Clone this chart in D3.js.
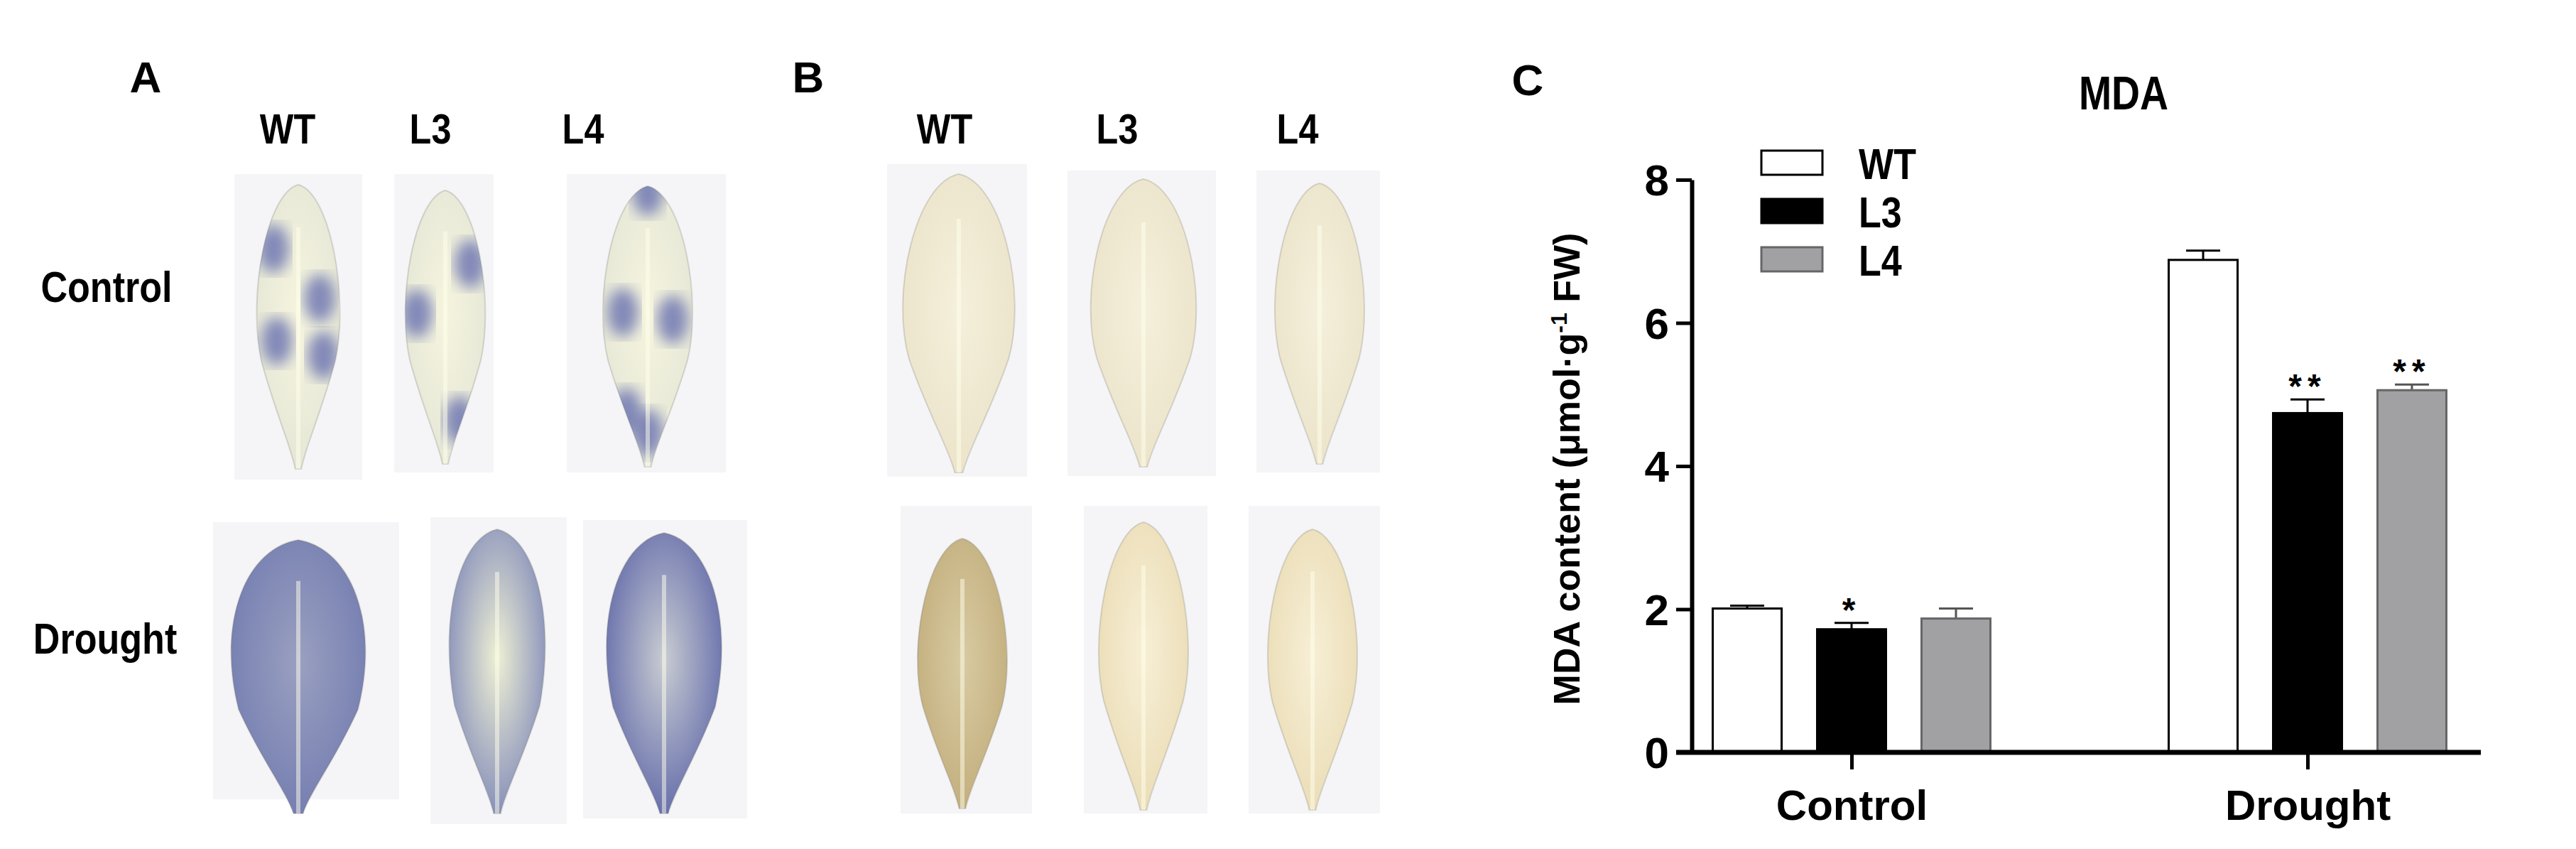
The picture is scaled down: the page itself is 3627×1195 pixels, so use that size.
<!DOCTYPE html>
<html><head><meta charset="utf-8">
<script src="https://cdn.jsdelivr.net/npm/d3@7"></script>
<style>body{margin:0;background:#fff}svg{display:block}</style>
</head><body>
<script>
const groups = ["Control", "Drought"];
const series = ["WT", "L3", "L4"];
const meanWT = [2.01, 6.88];
const meanL3 = [1.72, 4.74];
const meanL4 = [1.87, 5.06];
const errWT = [0.04, 0.13];
const errL3 = [0.09, 0.19];
const errL4 = [0.14, 0.08];
const sigWT = ["", ""];
const sigL3 = ["*", "**"];
const sigL4 = ["", "**"];
const yTicks = [0, 2, 4, 6, 8];
const colors = {WT: "#ffffff", L3: "#000000", L4: "#a1a1a4"};

const means = {WT: meanWT, L3: meanL3, L4: meanL4};
const errs = {WT: errWT, L3: errL3, L4: errL4};
const sigs = {WT: sigWT, L3: sigL3, L4: sigL4};

const W = 3627, H = 1195;
const svg = d3.select("body").append("svg").attr("width", W).attr("height", H);
const bold = "Arial, 'Liberation Sans', sans-serif";

// condensed bold text helper
function ntxt(x, y, s, size, anchor, sx) {
  const g = svg.append("g").attr("transform", `translate(${x},${y}) scale(${sx || 0.84},1)`);
  return g.append("text").text(s).attr("font-family", bold).attr("font-weight", "bold")
    .attr("font-size", size).attr("text-anchor", anchor || "middle");
}
const txt = (x, y, s, size, anchor) => svg.append("text").attr("x", x).attr("y", y).text(s)
  .attr("font-family", bold).attr("font-weight", "bold").attr("font-size", size).attr("text-anchor", anchor || "middle");

// ---------- Panels A and B (photo panels, approximated) ----------
function leafPath(cx, top, w, h, broad) {
  const b = top + h, mid = top + h * (broad ? 0.3 : 0.4);
  const pw = w * 0.08;
  return `M${cx},${top} C${cx + w * 0.35},${top + h * 0.03} ${cx + w * 0.55},${mid} ${cx + w * 0.4},${top + h * 0.62}
    C${cx + w * 0.25},${top + h * 0.8} ${cx + pw},${b - h * 0.08} ${cx + pw * 0.4},${b}
    L${cx - pw * 0.4},${b} C${cx - pw},${b - h * 0.08} ${cx - w * 0.25},${top + h * 0.8} ${cx - w * 0.4},${top + h * 0.62}
    C${cx - w * 0.55},${mid} ${cx - w * 0.35},${top + h * 0.03} ${cx},${top} Z`;
}
const defs = svg.append("defs");
function grad(id, c1, c2) {
  const g = defs.append("radialGradient").attr("id", id).attr("cx", "50%").attr("cy", "45%").attr("r", "60%");
  g.append("stop").attr("offset", "0%").attr("stop-color", c1);
  g.append("stop").attr("offset", "100%").attr("stop-color", c2);
}
grad("aC", "#f5f4de", "#e4e6d6");
grad("aD1", "#9aa0c0", "#737cb0");
grad("aD2", "#eef0d4", "#7f88b8");
grad("aD3", "#c9ccd2", "#5f68a8");
grad("bC", "#f5f0dc", "#ebe3c9");
grad("bD1", "#d8cba2", "#c2ad7c");
grad("bD2", "#f7efd6", "#eadcb5");
defs.append("filter").attr("id", "blur").append("feGaussianBlur").attr("stdDeviation", 10);

const leaves = [
  {tile:[330,245,180,430], cx:420, top:260, w:130, h:400, f:"url(#aC)", broad:false, spots:[[-35,-90],[30,-20],[-30,40],[35,60]]},
  {tile:[555,245,140,420], cx:627, top:268, w:125, h:385, f:"url(#aC)", broad:false, spots:[[-40,0],[35,-70],[20,150]]},
  {tile:[798,245,224,420], cx:912, top:262, w:140, h:395, f:"url(#aC)", broad:false, spots:[[0,-170],[-35,0],[35,10],[0,170],[-30,140]]},
  {tile:[300,735,262,390], cx:420, top:760, w:210, h:385, f:"url(#aD1)", broad:true},
  {tile:[606,728,192,432], cx:700, top:745, w:150, h:400, f:"url(#aD2)", broad:true},
  {tile:[821,732,231,420], cx:935, top:750, w:180, h:395, f:"url(#aD3)", broad:true},
  {tile:[1249,231,197,440], cx:1350, top:245, w:175, h:420, f:"url(#bC)", broad:false},
  {tile:[1503,240,209,430], cx:1610, top:252, w:165, h:405, f:"url(#bC)", broad:false},
  {tile:[1769,240,174,425], cx:1858, top:258, w:140, h:395, f:"url(#bC)", broad:false},
  {tile:[1268,712,185,433], cx:1355, top:758, w:140, h:380, f:"url(#bD1)", broad:false},
  {tile:[1526,712,174,433], cx:1610, top:735, w:140, h:405, f:"url(#bD2)", broad:false},
  {tile:[1758,712,185,433], cx:1848, top:745, w:140, h:395, f:"url(#bD2)", broad:false}
];
const lg = svg.append("g");
leaves.forEach((l, i) => {
  lg.append("rect").attr("x", l.tile[0]).attr("y", l.tile[1]).attr("width", l.tile[2]).attr("height", l.tile[3]).attr("fill", "#f5f5f7");
  const cp = defs.append("clipPath").attr("id", "lc" + i);
  cp.append("path").attr("d", leafPath(l.cx, l.top, l.w, l.h, l.broad));
  lg.append("path").attr("d", leafPath(l.cx, l.top, l.w, l.h, l.broad)).attr("fill", l.f).attr("stroke", "rgba(120,120,110,0.25)").attr("stroke-width", 2);
  const sg = lg.append("g").attr("clip-path", `url(#lc${i})`);
  (l.spots || []).forEach(s => sg.append("ellipse").attr("cx", l.cx + s[0]).attr("cy", l.top + l.h * 0.45 + s[1])
    .attr("rx", 22).attr("ry", 34).attr("fill", "#5f68ac").attr("opacity", 0.75).attr("filter", "url(#blur)"));
  lg.append("path").attr("d", `M${l.cx},${l.top + l.h * 0.15} L${l.cx},${l.top + l.h}`).attr("stroke", "rgba(255,255,235,0.5)").attr("stroke-width", 6);
});

txt(205, 130, "A", 62);
txt(1138, 130, "B", 62);
[[405, 606, 821], [1330, 1573, 1827]].forEach(xs => xs.forEach((x, i) => ntxt(x, 202, series[i], 60)));
ntxt(150, 425, "Control", 62);
ntxt(148, 920, "Drought", 62);

// ---------- Panel C (bar chart) ----------
const y = d3.scaleLinear().domain([0, 8]).range([1059, 253]);
const x0 = d3.scalePoint().domain(groups).range([2607, 3249]);
const x1 = d3.scaleBand().domain(series).range([-195.5, 195.5]).paddingInner(0.34);
const bw = x1.bandwidth();

txt(2151, 134, "C", 62);
ntxt(2990, 154, "MDA", 66);

const data = [];
groups.forEach((g, gi) => series.forEach(s => data.push({g, s, v: means[s][gi], e: errs[s][gi], sig: sigs[s][gi]})));

const bars = svg.append("g");
data.forEach(d => {
  const cx = x0(d.g) + x1(d.s) + bw / 2;
  const ec = d.s === "L4" ? "#555" : "#000";
  bars.append("line").attr("x1", cx).attr("x2", cx).attr("y1", y(d.v)).attr("y2", y(d.v + d.e)).attr("stroke", ec).attr("stroke-width", 3);
  bars.append("line").attr("x1", cx - 24).attr("x2", cx + 24).attr("y1", y(d.v + d.e)).attr("y2", y(d.v + d.e)).attr("stroke", ec).attr("stroke-width", 3);
  bars.append("rect").attr("x", x0(d.g) + x1(d.s)).attr("y", y(d.v)).attr("width", bw).attr("height", y(0) - y(d.v))
    .attr("fill", colors[d.s]).attr("stroke", d.s === "L4" ? "#666" : "#000").attr("stroke-width", 3);
  if (d.sig) txt(cx, y(d.v + d.e) - 2, d.sig, 48).attr("letter-spacing", 8);
});

// y axis
const yAxis = svg.append("g").attr("transform", "translate(2382,0)")
  .call(d3.axisLeft(y).tickValues(yTicks).tickSize(22).tickSizeOuter(0).tickPadding(10));
yAxis.select(".domain").attr("stroke-width", 6);
yAxis.selectAll(".tick line").attr("stroke-width", 5);
yAxis.selectAll(".tick text").attr("font-family", bold).attr("font-weight", "bold").attr("font-size", 62).attr("fill", "#000").attr("dy", "0.35em");

// x axis
const xAxis = svg.append("g").attr("transform", "translate(0,1059)")
  .call(d3.axisBottom(x0).tickSize(24).tickSizeOuter(0).tickPadding(26));
xAxis.select(".domain").attr("d", "M2360,0H3493").attr("stroke-width", 7);
xAxis.selectAll(".tick line").attr("stroke-width", 5);
xAxis.selectAll(".tick text").attr("font-family", bold).attr("font-weight", "bold").attr("font-size", 60).attr("fill", "#000").attr("dy", "0.75em");

// y label
svg.append("text").attr("transform", "translate(2224,660) rotate(-90)").attr("text-anchor", "middle")
  .attr("font-family", bold).attr("font-weight", "bold").attr("font-size", 52)
  .html('MDA content (μmol·g<tspan dy="-18" font-size="32">-1</tspan><tspan dy="18"> FW)</tspan>');

// legend
const leg = svg.append("g");
series.forEach((s, i) => {
  const ly = 212 + i * 68;
  leg.append("rect").attr("x", 2480).attr("y", ly).attr("width", 86).attr("height", 34)
    .attr("fill", colors[s]).attr("stroke", s === "L4" ? "#666" : "#000").attr("stroke-width", 3);
  ntxt(2617, ly + 40, s, 62, "start");
});
</script>
</body></html>
